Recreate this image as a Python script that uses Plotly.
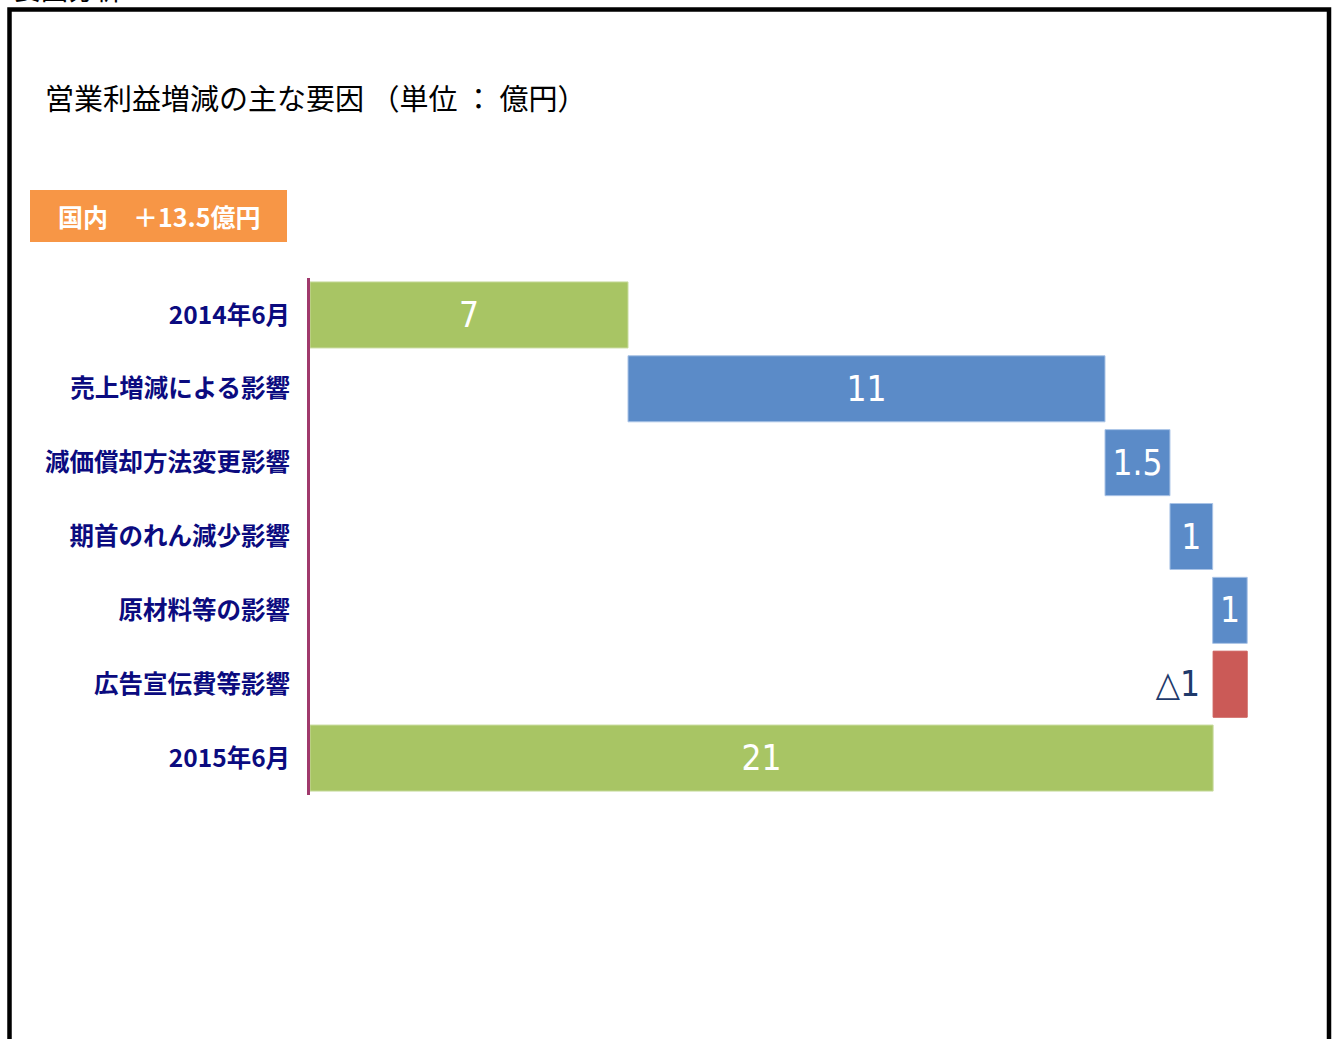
import plotly.graph_objects as go

# ---- data ----
categories = ['2014年6月', '売上増減による影響', '減価償却方法変更影響', '期首のれん減少影響',
              '原材料等の影響', '広告宣伝費等影響', '2015年6月']
values = [7.0, 10.5, 1.43, 0.94, 0.76, -0.75, 19.88]
measures = ['absolute', 'relative', 'relative', 'relative', 'relative', 'relative', 'total']
value_labels = ['7', '11', '1.5', '1', '1', '△1 ', '21']

title_text = '営業利益増減の主な要因 （単位 ： 億円）'
badge_text = '国内　＋13.5億円'
header_text = '要因分析'

W, H = 1338, 1039

# ---- waterfall geometry via bases ----
bases, lengths, colors, lcolors = [], [], [], []
running = 0.0
for v, m in zip(values, measures):
    if m == 'absolute':
        bases.append(0); lengths.append(v); running = v
        colors.append('#A8C564'); lcolors.append('#C9DCA0')
    elif m == 'total':
        bases.append(0); lengths.append(v)
        colors.append('#A8C564'); lcolors.append('#C9DCA0')
    else:
        bases.append(running); lengths.append(v); running += v
        if v >= 0:
            colors.append('#5B8BC8'); lcolors.append('#A9C3E6')
        else:
            colors.append('#CB5A57'); lcolors.append('#CB5A57')

textpos = ['outside' if v < 0 else 'inside' for v in values]
textcol = ['#1F3A6B' if v < 0 else 'white' for v in values]

fig = go.Figure()
fig.add_trace(go.Bar(
    y=categories, x=lengths, base=bases, orientation='h',
    marker=dict(color=colors, line=dict(color=lcolors, width=1)),
    text=value_labels, textposition=textpos, textangle=0,
    constraintext='none', insidetextanchor='middle',
    textfont=dict(size=35, color=textcol,
                  family='DejaVu Sans Condensed, Liberation Sans Narrow, Roboto, Arial'),
    cliponaxis=False, hoverinfo='skip', showlegend=False,
))

x0 = 310
ppu = 318 / 7.0
xmax = 22
x_end = x0 + xmax * ppu
fig.update_layout(
    width=W, height=H, margin=dict(l=0, r=0, t=0, b=0),
    paper_bgcolor='white', plot_bgcolor='white',
    bargap=0.106,
    xaxis=dict(domain=[x0 / W, x_end / W], range=[0, xmax], visible=False, fixedrange=True),
    yaxis=dict(domain=[(H - 795) / H, (H - 278) / H], type='category',
               range=[6.5, -0.5], showgrid=False, zeroline=False,
               showline=True, linecolor='#A0396C', linewidth=3,
               ticks='', ticklabelstandoff=12,
               tickfont=dict(size=24.5, color='#0B0B7F',
                             family='Noto Sans CJK JP', weight='bold')),
    font=dict(family='Noto Sans CJK JP'),
)

# frame border
fig.add_shape(type='rect', xref='paper', yref='paper',
              x0=9.5 / W, x1=1329 / W, y0=-0.05, y1=(H - 9.5) / H,
              line=dict(color='black', width=4.5), fillcolor='rgba(0,0,0,0)')

# header text (cut off at top, as in the source)
fig.add_annotation(xref='paper', yref='paper', x=12 / W, y=(H - 10) / H,
                   xanchor='left', yanchor='bottom', text=header_text, showarrow=False,
                   font=dict(size=27, color='black', family='Noto Sans CJK JP'))

# title
fig.add_annotation(xref='paper', yref='paper', x=43 / W, y=(H - 97) / H,
                   xanchor='left', yanchor='middle', text=title_text, showarrow=False,
                   font=dict(size=29, color='black', family='Noto Sans CJK JP'))

# orange badge
fig.add_shape(type='rect', xref='paper', yref='paper',
              x0=30 / W, x1=287 / W, y0=(H - 242) / H, y1=(H - 190) / H,
              line=dict(width=0), fillcolor='#F79646')
fig.add_annotation(xref='paper', yref='paper', x=159 / W, y=(H - 216) / H,
                   xanchor='center', yanchor='middle', text=badge_text, showarrow=False,
                   font=dict(size=25, color='white', family='Noto Sans CJK JP', weight='bold'))

fig.write_html('out.html', config={'displayModeBar': False},
               post_script="document.body.style.margin='0';document.body.style.overflow='hidden';")
